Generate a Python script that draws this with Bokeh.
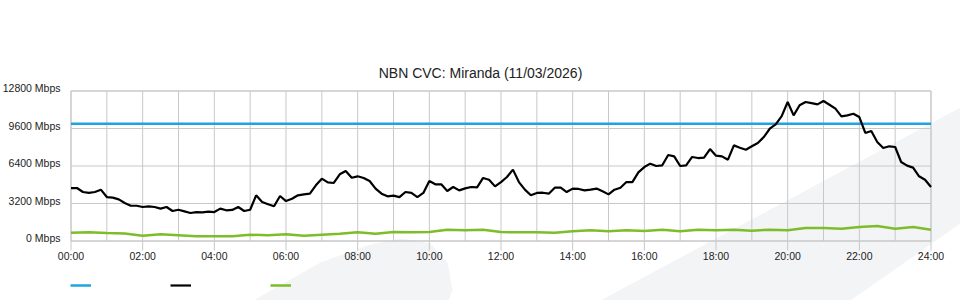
from bokeh.plotting import figure
from bokeh.models import Range1d, Legend, LegendItem
from bokeh.core.properties import value
from bokeh.embed import file_html
from bokeh.resources import INLINE

TITLE = "NBN CVC: Miranda (11/03/2026)"

x_tick_hours = [0, 2, 4, 6, 8, 10, 12, 14, 16, 18, 20, 22, 24]
x_tick_labels = ["00:00", "02:00", "04:00", "06:00", "08:00", "10:00", "12:00",
                 "14:00", "16:00", "18:00", "20:00", "22:00", "24:00"]
x_grid_hours = list(range(0, 25))
y_tick_values = [0, 3200, 6400, 9600, 12800]
y_tick_labels = ["0 Mbps", "3200 Mbps", "6400 Mbps", "9600 Mbps", "12800 Mbps"]

# capacity (blue)
capacity_hours = [0, 24]
capacity_mbps = [10000, 10000]

# used bandwidth (black), every 10 minutes from 00:00 to 24:00
usage_minutes = list(range(0, 1441, 10))
usage_mbps = [
    4520, 4520, 4180, 4100, 4180, 4380,
    3750, 3700, 3550, 3240, 3010, 3010,
    2900, 2960, 2900, 2760, 2900, 2560,
    2670, 2530, 2390, 2470, 2450, 2500,
    2470, 2760, 2620, 2650, 2900, 2560,
    2670, 3900, 3330, 3130, 2960, 3840,
    3410, 3610, 3900, 3980, 4040, 4750,
    5320, 5000, 4950, 5690, 5970, 5400,
    5520, 5380, 5120, 4470, 4040, 3810,
    3870, 3750, 4180, 4100, 3750, 4100,
    5120, 4840, 4840, 4270, 4610, 4320,
    4490, 4610, 4580, 5380, 5230, 4660,
    5030, 5460, 6090, 5030, 4380, 3900,
    4100, 4120, 4040, 4550, 4550, 4180,
    4470, 4440, 4320, 4380, 4470, 4240,
    3980, 4380, 4550, 5030, 5030, 5860,
    6310, 6600, 6400, 6460, 7340, 7220,
    6400, 6460, 7170, 7080, 7110, 7850,
    7280, 7220, 6940, 8160, 7960, 7790,
    8080, 8360, 8870, 9580, 9950, 10650,
    11860, 10720, 11580, 11860, 11770, 11660,
    11950, 11630, 11290, 10640, 10720, 10860,
    10580, 9220, 9390, 8450, 7940, 8080,
    8020, 6740, 6430, 6260, 5520, 5230,
    4610,
]

# green series, every 30 minutes
green_minutes = list(range(0, 1441, 30))
green_mbps = [
    711, 740, 683, 640, 450, 569, 483, 398, 398, 398,
    540, 483, 569, 450, 540, 626, 739, 626, 768, 739,
    768, 967, 910, 960, 768, 739, 739, 711, 825, 910,
    825, 910, 860, 967, 825, 967, 910, 967, 882, 967,
    910, 1109, 1109, 1052, 1194, 1280, 1052, 1200, 967,
]

usage_hours = [m / 60 for m in usage_minutes]
green_hours = [m / 60 for m in green_minutes]

FONT = "Liberation Sans"
GRID = "#c8c8c8"
TXT = "#222222"
BLUE = "#1ea4df"
GREEN = "#7dbd2a"
WM = "#f3f4f6"

# page layout (pixels): the plot area inside the 960x300 canvas
W, H = 960, 300
PL, PR, PT, PB = 70.5, 930.5, 90.5, 240.5
H0, H1 = 0, 24
V0, V1 = 0, 12800
PXH = (PR - PL) / (H1 - H0)       # px per hour
PYV = (PB - PT) / (V1 - V0)       # px per Mbps


def px2x(px):
    return H0 + (px - PL) / PXH


def py2y(py):
    return V0 + (PB - py) / PYV


p = figure(width=W, height=H, output_backend="svg", toolbar_location=None,
           x_axis_location=None, y_axis_location=None,
           x_range=Range1d(px2x(0), px2x(W)), y_range=Range1d(py2y(H), py2y(0)),
           min_border=0)
p.grid.visible = False
p.outline_line_color = None
p.background_fill_color = "white"
p.border_fill_color = "white"

# decorative watermark swoosh behind everything (page-pixel outlines)
wm_shapes = [
    [(253, 300), (320, 262), (370, 244), (400, 238), (430, 243), (447, 262), (452, 290), (448, 300)],
    [(600, 300), (960, 107), (960, 223), (850, 300)],
]
for pts in wm_shapes:
    p.patch([px2x(x) for x, _ in pts], [py2y(y) for _, y in pts],
            fill_color=WM, line_color=None)

# grid lines
p.segment(x0=x_grid_hours, y0=[V0] * len(x_grid_hours),
          x1=x_grid_hours, y1=[V1] * len(x_grid_hours),
          line_color=GRID, line_width=1)
p.segment(x0=[H0] * len(y_tick_values), y0=y_tick_values,
          x1=[H1] * len(y_tick_values), y1=y_tick_values,
          line_color=GRID, line_width=1)
# plot-area border
p.quad(left=[H0], right=[H1], bottom=[V0], top=[V1],
       fill_color=None, line_color=GRID, line_width=1)
# x tick marks below the plot area
p.segment(x0=x_tick_hours, y0=[V0] * len(x_tick_hours),
          x1=x_tick_hours, y1=[py2y(PB + 9.5)] * len(x_tick_hours),
          line_color=GRID, line_width=1)

# tick labels
p.text(x=x_tick_hours, y=[V0] * len(x_tick_hours), text=x_tick_labels,
       y_offset=15, text_align="center", text_baseline="alphabetic",
       text_font=value(FONT), text_font_size=value("10.5px"), text_color=TXT)
p.text(x=[H0] * len(y_tick_values), y=y_tick_values, text=y_tick_labels,
       x_offset=-10.5, y_offset=-3, text_align="right", text_baseline="alphabetic",
       text_font=value(FONT), text_font_size=value("10.5px"), text_color=TXT)

# title
p.text(x=[px2x(480)], y=[py2y(72.3)], text=[TITLE],
       text_align="center", text_baseline="alphabetic",
       text_font=value(FONT), text_font_size=value("14px"), text_color=TXT)

# series
r_cap = p.line(capacity_hours, capacity_mbps, line_color=BLUE, line_width=2.5)
r_use = p.line(usage_hours, usage_mbps, line_color="black", line_width=2.2)
r_grn = p.line(green_hours, green_mbps, line_color=GREEN, line_width=2.5)

# legend: coloured keys only (no label text in the reference)
legend = Legend(items=[LegendItem(label=" ", renderers=[r_cap]),
                       LegendItem(label=" ", renderers=[r_use]),
                       LegendItem(label=" ", renderers=[r_grn])],
                orientation="horizontal", location=(70, 5),
                glyph_width=21, glyph_height=20, label_height=20, label_width=74,
                label_standoff=5, spacing=0, padding=0, margin=0,
                background_fill_alpha=0, border_line_color=None)
p.add_layout(legend)

open("out.html", "w").write(file_html(p, INLINE))
